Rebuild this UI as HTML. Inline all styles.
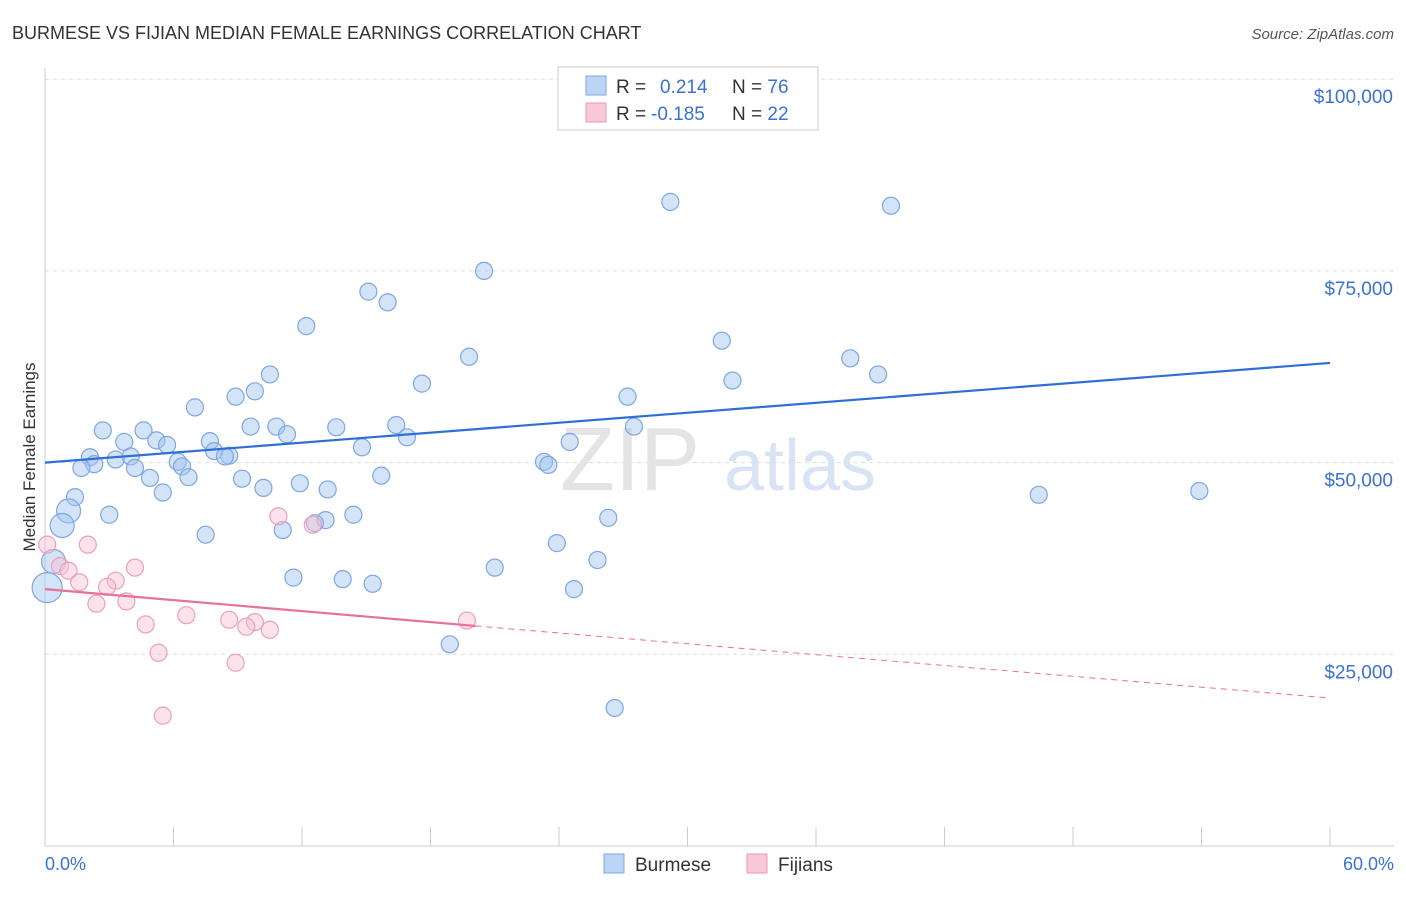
<!DOCTYPE html>
<html><head><meta charset="utf-8"><style>
body{margin:0;background:#fff;font-family:"Liberation Sans",sans-serif}
svg text{font-family:"Liberation Sans",sans-serif}
</style></head><body>
<svg id="chart" width="1406" height="892">
<text x="12" y="39" font-size="18" fill="#333">BURMESE VS FIJIAN MEDIAN FEMALE EARNINGS CORRELATION CHART</text>
<text x="1394" y="39" font-size="15" fill="#555" font-style="italic" text-anchor="end">Source: ZipAtlas.com</text>
<g id="grid"></g>
<text x="630" y="490" font-size="90" fill="#e4e4e4" font-family="Liberation Serif" text-anchor="middle">ZIP</text>
<text x="800" y="490" font-size="72" fill="#d8e4f4" text-anchor="middle">atlas</text>
<g id="marks"></g>
<text transform="translate(35,457) rotate(-90)" font-size="17" fill="#333" text-anchor="middle">Median Female Earnings</text>
<text x="45" y="870" font-size="18" fill="#3b72d1">0.0%</text>
<text x="1394" y="870" font-size="18" fill="#3b72d1" text-anchor="end">60.0%</text>
<g>
<rect x="558" y="67" width="260" height="63" fill="#fff" stroke="#ccc"/>
<rect x="586" y="76" width="20" height="19" fill="#bcd4f5" stroke="#7ea6e0"/>
<rect x="586" y="103" width="20" height="19" fill="#f8c8d8" stroke="#e898b4"/>
<text x="616" y="93" font-size="19" fill="#333">R = <tspan fill="#3b72d1" x="660">0.214</tspan><tspan x="732">N = </tspan><tspan fill="#3b72d1">76</tspan></text>
<text x="616" y="120" font-size="19" fill="#333">R = <tspan fill="#3b72d1" x="651">-0.185</tspan><tspan x="732">N = </tspan><tspan fill="#3b72d1">22</tspan></text>
</g>
<g>
<rect x="604" y="854" width="20" height="19" fill="#bcd4f5" stroke="#7ea6e0"/>
<text x="635" y="871" font-size="19" fill="#333">Burmese</text>
<rect x="747" y="854" width="20" height="19" fill="#f8c8d8" stroke="#e898b4"/>
<text x="778" y="871" font-size="19" fill="#333">Fijians</text>
</g>
</svg>
<script>
const yTicks=[25000,50000,75000,100000];
const yTickLabels=["$25,000","$50,000","$75,000","$100,000"];
const burmeseX=[29.2,39.5,20.5,15.1,16.0,12.2,31.6,19.8,37.6,38.9,32.1,10.5,17.6,9.8,8.9,27.2,7.0,16.4,9.6,10.8,13.6,27.5,2.7,4.6,11.3,16.9,3.7,5.2,5.7,7.7,24.5,14.8,7.9,2.1,4.0,8.6,3.3,8.4,2.3,6.2,23.3,23.5,6.4,1.7,4.2,4.9,6.7,15.7,9.2,10.2,11.9,13.2,5.5,1.4,46.4,53.9,1.1,3.0,14.4,13.1,26.3,0.8,11.1,12.6,7.5,23.9,0.4,25.8,21.0,11.6,13.9,15.3,24.7,18.9,26.6,0.1];
const burmeseY=[84000,83500,75000,72300,70900,67800,65900,63800,63600,61500,60700,61500,60300,59300,58600,58600,57200,54900,54700,54700,54600,54700,54200,54200,53700,53300,52700,52900,52300,52800,52700,52000,51500,50700,50800,50900,50400,50800,49800,50100,50100,49700,49500,49300,49300,48000,48100,48300,47900,46700,47300,46500,46100,45500,45800,46300,43700,43200,43200,42500,42800,41800,41200,42100,40600,39500,37100,37300,36300,35000,34800,34200,33500,26300,18000,33700];
const fijiX=[0.1,2.0,0.7,1.1,1.6,3.3,4.2,2.9,2.4,3.8,4.7,6.6,8.6,9.8,10.5,9.4,5.3,8.9,5.5,10.9,12.5,19.7];
const fijiY=[39300,39300,36500,35900,34400,34600,36300,33800,31600,31900,28900,30100,29500,29200,28200,28600,25200,23900,17000,43000,41900,29400];
const trendB=[[0,50000],[60,63000]];
const trendF=[[0,33500],[20.1,28700],[60,19300]];
const NS="http://www.w3.org/2000/svg";
const X0=45,X1=1330,YB=846,PX=191.7/25000;
const sx=v=>X0+(v/60)*(X1-X0), sy=v=>YB-v*PX;
function mk(t,a,p){const e=document.createElementNS(NS,t);for(const k in a)e.setAttribute(k,a[k]);p.appendChild(e);return e;}
const grid=document.getElementById('grid'),marks=document.getElementById('marks');
yTicks.forEach((t,i)=>{
 const l=mk('line',{x1:X0,x2:1394,y1:sy(t),y2:sy(t),stroke:'#ddd','stroke-dasharray':'4,4'},grid);
 
 
 const tx=mk('text',{x:1393,y:sy(t)+24,'font-size':19,fill:'#3b72d1','text-anchor':'end'},grid);
 tx.textContent=yTickLabels[i];
 
 
});
const ax=mk('line',{x1:X0,x2:X0,y1:68,y2:846,stroke:'#ccc'},grid);


const bx=mk('line',{x1:X0,x2:1394,y1:846,y2:846,stroke:'#ccc'},grid);


for(let i=0;i<=10;i++){const v=i*6;const tk=mk('line',{x1:sx(v),x2:sx(v),y1:827,y2:846,stroke:'#ccc'},grid);
 
 }
burmeseX.forEach((x,i)=>{const r=(x<1.5&&burmeseY[i]<45000)?(burmeseY[i]<36000?15:12):8.5;
 const c=mk('circle',{cx:sx(x),cy:sy(burmeseY[i]),r:r,fill:'rgba(160,195,240,0.45)',stroke:'#7ea6e0','stroke-width':1.2},marks);
 
 });
fijiX.forEach((x,i)=>{const c=mk('circle',{cx:sx(x),cy:sy(fijiY[i]),r:8.5,fill:'rgba(248,190,210,0.45)',stroke:'#eaa0bc','stroke-width':1.2},marks);
 
 });
const tb=mk('line',{x1:sx(trendB[0][0]),y1:sy(trendB[0][1]),x2:sx(trendB[1][0]),y2:sy(trendB[1][1]),stroke:'#2e6fd6','stroke-width':2.2},marks);


const tf=mk('line',{x1:sx(trendF[0][0]),y1:sy(trendF[0][1]),x2:sx(trendF[1][0]),y2:sy(trendF[1][1]),stroke:'#e8709a','stroke-width':2.2},marks);


const td=mk('line',{x1:sx(trendF[1][0]),y1:sy(trendF[1][1]),x2:sx(trendF[2][0]),y2:sy(trendF[2][1]),stroke:'#e8709a','stroke-width':1,'stroke-dasharray':'6,5'},marks);


</script>
</body></html>
